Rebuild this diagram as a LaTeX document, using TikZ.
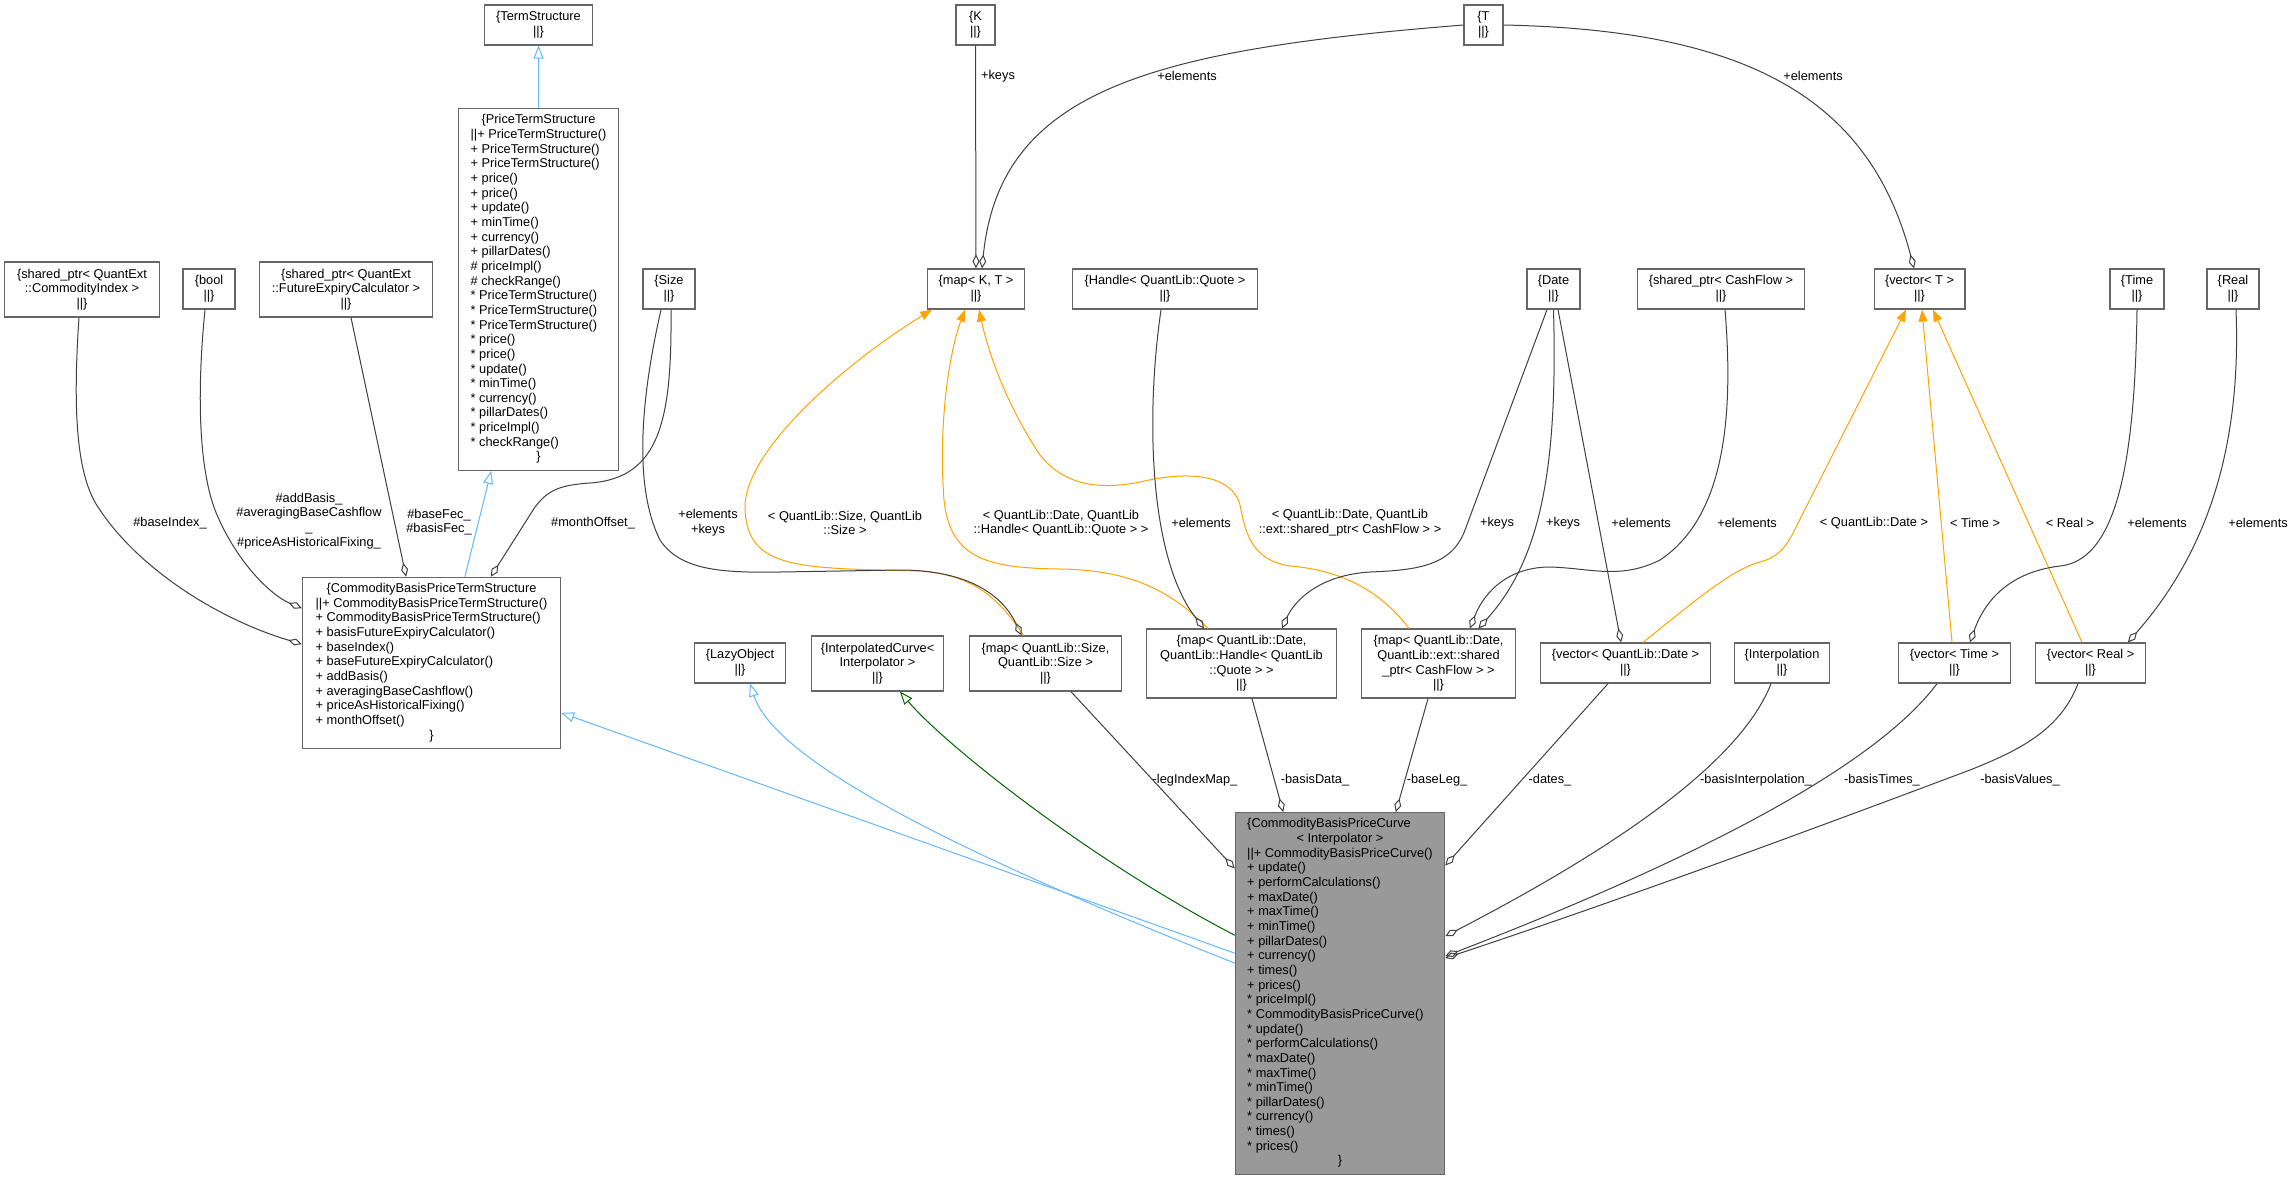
\documentclass[tikz,border=0pt]{standalone}
\usepackage{fontspec}
\setmainfont{Liberation Sans}
\usetikzlibrary{arrows.meta}
\definecolor{boxgrey}{HTML}{666666}
\definecolor{mainfill}{HTML}{999999}
\definecolor{edgegrey}{HTML}{404040}
\definecolor{inhblue}{HTML}{63B8FF}
\definecolor{prtgreen}{HTML}{006400}
\definecolor{tplorange}{HTML}{FFA500}
\newcommand{\dotfont}{\fontsize{12.8bp}{14.65bp}\selectfont}
\newcommand{\ctr}[1]{\multicolumn{1}{c}{#1}}
\newcommand{\bars}{||}

\begin{document}
\begin{tikzpicture}
	[x=1bp, y=-1bp,
	memcls/.style={draw=boxgrey, line width=1.3bp, fill=white, inner sep=0pt, font=\dotfont},
	cls/.style={memcls, align=center},
	curcls/.style={memcls, fill=mainfill},
	lbl/.style={inner sep=0pt, align=center, font=\dotfont},
	inh/.style={draw=inhblue, line width=1bp, -{Triangle[open, length=13bp, width=10bp]}},
	prot/.style={inh, draw=prtgreen},
	tpl/.style={draw=tplorange, line width=1bp, -{Triangle[length=12bp, width=9bp]}},
	agg/.style={draw=edgegrey, line width=1bp, -{Diamond[open, length=14bp, width=7bp]}}]
	\fill[white] (0,0) rectangle (2295,1180);
	\useasboundingbox (0,0) rectangle (2295,1180);

	\node[cls, minimum width=109, minimum height=40] (ts) at (538.5,25) {\{TermStructure\\\bars\}};
	\node[memcls, minimum width=161, minimum height=363] (pts) at (538.5,289.5) {\begin{tabular}{@{}l@{}}
		\ctr{\{PriceTermStructure}\\
		\bars+ PriceTermStructure()\\
		+ PriceTermStructure()\\
		+ PriceTermStructure()\\
		+ price()\\
		+ price()\\
		+ update()\\
		+ minTime()\\
		+ currency()\\
		+ pillarDates()\\
		\# priceImpl()\\
		\# checkRange()\\
		{}* PriceTermStructure()\\
		{}* PriceTermStructure()\\
		{}* PriceTermStructure()\\
		{}* price()\\
		{}* price()\\
		{}* update()\\
		{}* minTime()\\
		{}* currency()\\
		{}* pillarDates()\\
		{}* priceImpl()\\
		{}* checkRange()\\
		\ctr{\}}
	\end{tabular}};
	\node[cls, minimum width=156, minimum height=55] (ci) at (82,289.5) {\{shared\_ptr< QuantExt\\::CommodityIndex >\\\bars\}};
	\node[cls, minimum width=52, minimum height=40] (bool) at (209,289) {\{bool\\\bars\}};
	\node[cls, minimum width=174, minimum height=55] (fec) at (346,289.5) {\{shared\_ptr< QuantExt\\::FutureExpiryCalculator >\\\bars\}};
	\node[cls, minimum width=52, minimum height=40] (size) at (669,289) {\{Size\\\bars\}};
	\node[cls, minimum width=39, minimum height=40] (kk) at (975.5,25) {\{K\\\bars\}};
	\node[cls, minimum width=39, minimum height=40] (tt) at (1483.5,25) {\{T\\\bars\}};
	\node[cls, minimum width=98, minimum height=40] (mapkt) at (976,289) {\{map< K, T >\\\bars\}};
	\node[cls, minimum width=186, minimum height=40] (handle) at (1165,289) {\{Handle< QuantLib::Quote >\\\bars\}};
	\node[cls, minimum width=53, minimum height=40] (date) at (1553.5,289) {\{Date\\\bars\}};
	\node[cls, minimum width=168, minimum height=40] (cashflow) at (1721,289) {\{shared\_ptr< CashFlow >\\\bars\}};
	\node[cls, minimum width=91, minimum height=40] (vect) at (1919.5,289) {\{vector< T >\\\bars\}};
	\node[cls, minimum width=54, minimum height=40] (time) at (2137,289) {\{Time\\\bars\}};
	\node[cls, minimum width=52, minimum height=40] (real) at (2233,289) {\{Real\\\bars\}};

	\node[memcls, minimum width=259, minimum height=172] (cbpts) at (431.5,663) {\begin{tabular}{@{}l@{}}
		\ctr{\{CommodityBasisPriceTermStructure}\\
		\bars+ CommodityBasisPriceTermStructure()\\
		+ CommodityBasisPriceTermStructure()\\
		+ basisFutureExpiryCalculator()\\
		+ baseIndex()\\
		+ baseFutureExpiryCalculator()\\
		+ addBasis()\\
		+ averagingBaseCashflow()\\
		+ priceAsHistoricalFixing()\\
		+ monthOffset()\\
		\ctr{\}}
	\end{tabular}};
	\node[cls, minimum width=92, minimum height=40] (lazy) at (740,663) {\{LazyObject\\\bars\}};
	\node[cls, minimum width=133, minimum height=55] (icurve) at (877.5,663.5) {\{InterpolatedCurve<\\Interpolator >\\\bars\}};
	\node[cls, minimum width=153, minimum height=55] (mapsize) at (1045.5,663.5) {\{map< QuantLib::Size,\\QuantLib::Size >\\\bars\}};
	\node[cls, minimum width=191, minimum height=69] (maphandle) at (1241.5,663.5) {\{map< QuantLib::Date,\\QuantLib::Handle< QuantLib\\::Quote > >\\\bars\}};
	\node[cls, minimum width=155, minimum height=69] (mapcf) at (1438.5,663.5) {\{map< QuantLib::Date,\\QuantLib::ext::shared\\\_ptr< CashFlow > >\\\bars\}};
	\node[cls, minimum width=171, minimum height=40] (vecdate) at (1625.5,663) {\{vector< QuantLib::Date >\\\bars\}};
	\node[cls, minimum width=96, minimum height=40] (interp) at (1782,663) {\{Interpolation\\\bars\}};
	\node[cls, minimum width=113, minimum height=40] (vectime) at (1954.5,663) {\{vector< Time >\\\bars\}};
	\node[cls, minimum width=111, minimum height=40] (vecreal) at (2090.5,663) {\{vector< Real >\\\bars\}};

	\node[curcls, minimum width=210, minimum height=363] (cbpc) at (1340,993.5) {\begin{tabular}{@{}l@{}}
		\{CommodityBasisPriceCurve\\
		\ctr{< Interpolator >}\\
		\bars+ CommodityBasisPriceCurve()\\
		+ update()\\
		+ performCalculations()\\
		+ maxDate()\\
		+ maxTime()\\
		+ minTime()\\
		+ pillarDates()\\
		+ currency()\\
		+ times()\\
		+ prices()\\
		{}* priceImpl()\\
		{}* CommodityBasisPriceCurve()\\
		{}* update()\\
		{}* performCalculations()\\
		{}* maxDate()\\
		{}* maxTime()\\
		{}* minTime()\\
		{}* pillarDates()\\
		{}* currency()\\
		{}* times()\\
		{}* prices()\\
		\ctr{\}}
	\end{tabular}};

	\draw[inh] (pts.north) -- (ts.south);
	\draw[inh] ([xshift=33.5]cbpts.north) -- ([xshift=-47.5]pts.south);
	\draw[inh] ([yshift=40.5]cbpc.west) -- ([yshift=-50]cbpts.east);
	\draw[inh] ([yshift=30.5]cbpc.west) .. controls (950,850) and (775,760) .. ([xshift=10]lazy.south);
	\draw[prot] ([yshift=58.5]cbpc.west) .. controls (1090,860) and (945,745) .. ([xshift=22.5]icurve.south);

	\draw[tpl] ([xshift=-22]mapsize.north) .. controls (1000,600) and (975,575) .. (920,571) .. controls (800,568) and (748,570) .. (745,510) .. controls (742,450) and (850,360) .. ([xshift=-44]mapkt.south);
	\draw[tpl] ([xshift=-33.5]maphandle.north) .. controls (1170,590) and (1130,570) .. (1060,569) .. controls (990,568) and (950,560) .. (944,500) .. controls (938,420) and (950,350) .. ([xshift=-11]mapkt.south);
	\draw[tpl] ([xshift=-29.5]mapcf.north) .. controls (1380,590) and (1340,570) .. (1290,566) .. controls (1250,560) and (1245,530) .. (1240,505) .. controls (1232,475) and (1190,470) .. (1140,482) .. controls (1090,492) and (1060,480) .. (1040,455) .. controls (1010,410) and (990,360) .. ([xshift=3]mapkt.south);
	\draw[tpl] ([xshift=17.5]vecdate.north) .. controls (1690,605) and (1730,570) .. (1760,562) .. controls (1778,557) and (1785,548) .. (1792,535) -- ([xshift=-13.5]vect.south);
	\draw[tpl] ([xshift=-2.5]vectime.north) -- ([xshift=2.5]vect.south);
	\draw[tpl] ([xshift=-8.5]vecreal.north) -- ([xshift=13.5]vect.south);

	\draw[agg] ([xshift=-3]ci.south) .. controls (72,420) and (78,480) .. (100,510) .. controls (140,570) and (220,620) .. ([yshift=19]cbpts.west);
	\draw[agg] ([xshift=-4]bool.south) .. controls (196,400) and (200,470) .. (215,510) .. controls (235,560) and (270,595) .. ([yshift=55]cbpts.west);
	\draw[agg] ([xshift=5]fec.south) -- ([xshift=-25.5]cbpts.north);
	\draw[agg] ([xshift=2]size.south) .. controls (672,420) and (660,478) .. (590,483) .. controls (560,485) and (548,490) .. (535,507) -- ([xshift=59.5]cbpts.north);
	\draw[agg] ([xshift=-8]size.south) .. controls (645,380) and (630,480) .. (660,540) .. controls (680,570) and (720,573) .. (780,572) -- (900,570) .. controls (960,570) and (1000,590) .. ([xshift=-24]mapsize.north);
	\draw[agg] (kk.south) -- (mapkt.north);
	\draw[agg] (tt.west) .. controls (1150,50) and (1000,90) .. ([xshift=6]mapkt.north);
	\draw[agg] (tt.east) .. controls (1750,30) and (1870,100) .. ([xshift=-5.5]vect.north);
	\draw[agg] ([xshift=-4]handle.south) .. controls (1145,420) and (1150,560) .. ([xshift=-37.5]maphandle.north);
	\draw[agg] ([xshift=-6.5]date.south) -- (1465,530) .. controls (1452,565) and (1420,570) .. (1370,572) .. controls (1320,575) and (1295,600) .. ([xshift=40.5]maphandle.north);
	\draw[agg] (date.south) .. controls (1558,470) and (1540,560) .. ([xshift=40]mapcf.north);
	\draw[agg] ([xshift=4.5]date.south) -- ([xshift=-4.5]vecdate.north);
	\draw[agg] ([xshift=4]cashflow.south) .. controls (1735,430) and (1720,520) .. (1660,560) .. controls (1620,580) and (1590,568) .. (1550,567) .. controls (1510,567) and (1485,590) .. ([xshift=31.5]mapcf.north);
	\draw[agg] (time.south) .. controls (2135,450) and (2120,560) .. (2060,566) .. controls (2010,572) and (1985,600) .. ([xshift=15.5]vectime.north);
	\draw[agg] ([xshift=3]real.south) .. controls (2242,460) and (2200,560) .. ([xshift=37.5]vecreal.north);

	\draw[agg] ([xshift=25.5]mapsize.south) -- ([yshift=125.5]cbpc.west);
	\draw[agg] ([xshift=10.5]maphandle.south) -- ([xshift=-57]cbpc.north);
	\draw[agg] ([xshift=-10.5]mapcf.south) -- ([xshift=56]cbpc.north);
	\draw[agg] ([xshift=-17.5]vecdate.south) -- ([yshift=128.5]cbpc.east);
	\draw[agg] ([xshift=-11]interp.south) .. controls (1745,750) and (1650,830) .. ([yshift=57.5]cbpc.east);
	\draw[agg] ([xshift=-17.5]vectime.south) .. controls (1880,760) and (1720,850) .. ([yshift=37.5]cbpc.east);
	\draw[agg] ([xshift=-12.5]vecreal.south) .. controls (2060,730) and (2020,750) .. (1970,770) .. controls (1850,815) and (1650,890) .. ([yshift=35.5]cbpc.east);

	\node[lbl] (lkeys) at (998,76) {+keys};
	\node[lbl] (ltelema) at (1187,76) {+elements};
	\node[lbl] (ltelemb) at (1813,76) {+elements};
	\node[lbl] (lbaseindex) at (170,523) {\#baseIndex\_};
	\node[lbl] (laddbasis) at (309,521) {\#addBasis\_\\\#averagingBaseCashflow\\\_\\\#priceAsHistoricalFixing\_};
	\node[lbl] (lfec) at (439,522) {\#baseFec\_\\\#basisFec\_};
	\node[lbl] (lmonth) at (593,523) {\#monthOffset\_};
	\node[lbl] (lsizeelem) at (708,523) {+elements\\+keys};
	\node[lbl] (lsizetpl) at (845,523) {< QuantLib::Size, QuantLib\\::Size >};
	\node[lbl] (lhandletpl) at (1061,523) {< QuantLib::Date, QuantLib\\::Handle< QuantLib::Quote > >};
	\node[lbl] (lhandleelem) at (1201,523) {+elements};
	\node[lbl] (lcftpl) at (1350,523) {< QuantLib::Date, QuantLib\\::ext::shared\_ptr< CashFlow > >};
	\node[lbl] (ldatekeysa) at (1497,523) {+keys};
	\node[lbl] (ldatekeysb) at (1563,523) {+keys};
	\node[lbl] (ldateelem) at (1641,523) {+elements};
	\node[lbl] (lcfelem) at (1747,523) {+elements};
	\node[lbl] (ldatetpl) at (1874,523) {< QuantLib::Date >};
	\node[lbl] (ltimetpl) at (1975,523) {< Time >};
	\node[lbl] (lrealtpl) at (2070,523) {< Real >};
	\node[lbl] (ltimeelem) at (2157,523) {+elements};
	\node[lbl] (lrealelem) at (2258,523) {+elements};
	\node[lbl] (llegindex) at (1195,780) {-legIndexMap\_};
	\node[lbl] (lbasisdata) at (1315,780) {-basisData\_};
	\node[lbl] (lbaseleg) at (1437,780) {-baseLeg\_};
	\node[lbl] (ldates) at (1550,780) {-dates\_};
	\node[lbl] (linterp) at (1756,780) {-basisInterpolation\_};
	\node[lbl] (ltimes) at (1882,780) {-basisTimes\_};
	\node[lbl] (lvalues) at (2020,780) {-basisValues\_};
\end{tikzpicture}
\end{document}
